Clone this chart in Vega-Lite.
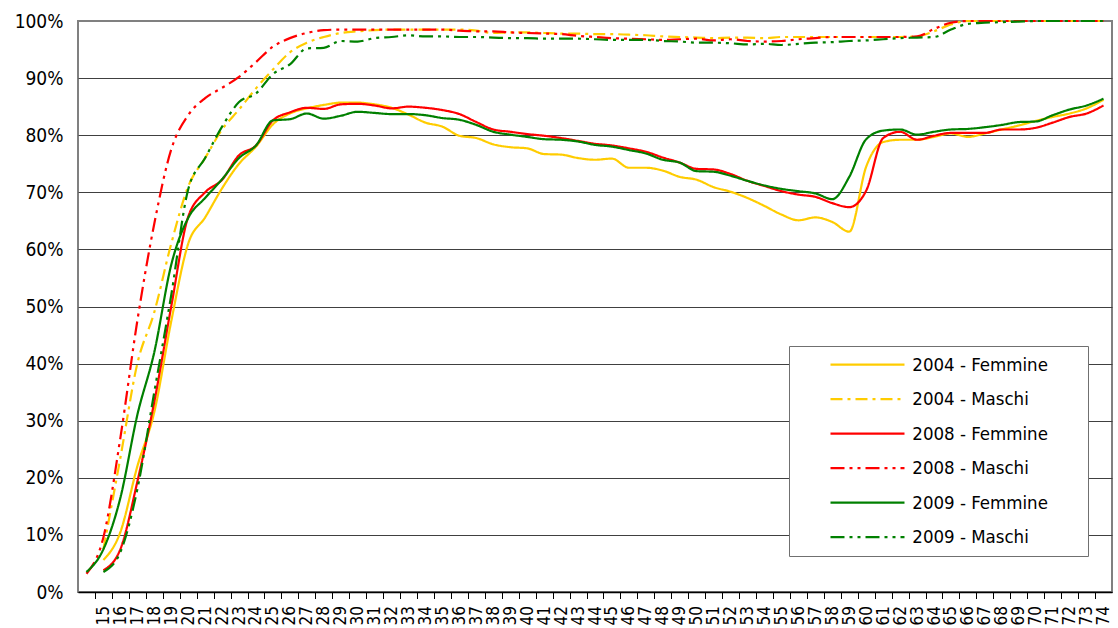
{
"$schema": "https://vega.github.io/schema/vega-lite/v6.json",
"width": 1034, "height": 571,
"autosize": {"type": "none"},
"padding": {"left": 78, "top": 21, "right": 6, "bottom": 36},
"background": "white",
"config": {"view": {"stroke": "#808080", "strokeWidth": 2}, "font": "DejaVu Sans Condensed, DejaVu Sans, sans-serif"},
"data": {"values": [
{"s":"2004 - Femmine","a":15,"v":5.6},{"s":"2004 - Femmine","a":16,"v":10.5},{"s":"2004 - Femmine","a":17,"v":22},{"s":"2004 - Femmine","a":18,"v":31.5},{"s":"2004 - Femmine","a":19,"v":47.4},{"s":"2004 - Femmine","a":20,"v":61},{"s":"2004 - Femmine","a":21,"v":65.6},{"s":"2004 - Femmine","a":22,"v":70.7},{"s":"2004 - Femmine","a":23,"v":75},{"s":"2004 - Femmine","a":24,"v":78},{"s":"2004 - Femmine","a":25,"v":81.9},{"s":"2004 - Femmine","a":26,"v":83.8},{"s":"2004 - Femmine","a":27,"v":84.7},{"s":"2004 - Femmine","a":28,"v":85.3},{"s":"2004 - Femmine","a":29,"v":85.7},{"s":"2004 - Femmine","a":30,"v":85.7},{"s":"2004 - Femmine","a":31,"v":85.4},{"s":"2004 - Femmine","a":32,"v":84.8},{"s":"2004 - Femmine","a":33,"v":83.6},{"s":"2004 - Femmine","a":34,"v":82.2},{"s":"2004 - Femmine","a":35,"v":81.5},{"s":"2004 - Femmine","a":36,"v":79.9},{"s":"2004 - Femmine","a":37,"v":79.5},{"s":"2004 - Femmine","a":38,"v":78.4},{"s":"2004 - Femmine","a":39,"v":77.9},{"s":"2004 - Femmine","a":40,"v":77.7},{"s":"2004 - Femmine","a":41,"v":76.7},{"s":"2004 - Femmine","a":42,"v":76.6},{"s":"2004 - Femmine","a":43,"v":76.0},{"s":"2004 - Femmine","a":44,"v":75.7},{"s":"2004 - Femmine","a":45,"v":75.9},{"s":"2004 - Femmine","a":46,"v":74.3},{"s":"2004 - Femmine","a":47,"v":74.3},{"s":"2004 - Femmine","a":48,"v":73.8},{"s":"2004 - Femmine","a":49,"v":72.7},{"s":"2004 - Femmine","a":50,"v":72.2},{"s":"2004 - Femmine","a":51,"v":70.9},{"s":"2004 - Femmine","a":52,"v":70.1},{"s":"2004 - Femmine","a":53,"v":69.0},{"s":"2004 - Femmine","a":54,"v":67.6},{"s":"2004 - Femmine","a":55,"v":66.1},{"s":"2004 - Femmine","a":56,"v":65.1},{"s":"2004 - Femmine","a":57,"v":65.6},{"s":"2004 - Femmine","a":58,"v":64.8},{"s":"2004 - Femmine","a":59,"v":63.1},{"s":"2004 - Femmine","a":60,"v":74.5},{"s":"2004 - Femmine","a":61,"v":78.8},{"s":"2004 - Femmine","a":62,"v":79.2},{"s":"2004 - Femmine","a":63,"v":79.2},{"s":"2004 - Femmine","a":64,"v":79.7},{"s":"2004 - Femmine","a":65,"v":80.3},{"s":"2004 - Femmine","a":66,"v":79.7},{"s":"2004 - Femmine","a":67,"v":80.3},{"s":"2004 - Femmine","a":68,"v":81.0},{"s":"2004 - Femmine","a":69,"v":81.7},{"s":"2004 - Femmine","a":70,"v":82.5},{"s":"2004 - Femmine","a":71,"v":83.2},{"s":"2004 - Femmine","a":72,"v":83.8},{"s":"2004 - Femmine","a":73,"v":84.7},{"s":"2004 - Femmine","a":74,"v":86.2},
{"s":"2004 - Maschi","a":15,"v":7.5},{"s":"2004 - Maschi","a":16,"v":23.5},{"s":"2004 - Maschi","a":17,"v":40},{"s":"2004 - Maschi","a":18,"v":49},{"s":"2004 - Maschi","a":19,"v":61},{"s":"2004 - Maschi","a":20,"v":71},{"s":"2004 - Maschi","a":21,"v":76},{"s":"2004 - Maschi","a":22,"v":81},{"s":"2004 - Maschi","a":23,"v":84.5},{"s":"2004 - Maschi","a":24,"v":88.2},{"s":"2004 - Maschi","a":25,"v":91.5},{"s":"2004 - Maschi","a":26,"v":94.5},{"s":"2004 - Maschi","a":27,"v":96.2},{"s":"2004 - Maschi","a":28,"v":97.2},{"s":"2004 - Maschi","a":29,"v":97.9},{"s":"2004 - Maschi","a":30,"v":98.2},{"s":"2004 - Maschi","a":31,"v":98.4},{"s":"2004 - Maschi","a":32,"v":98.5},{"s":"2004 - Maschi","a":33,"v":98.5},{"s":"2004 - Maschi","a":34,"v":98.5},{"s":"2004 - Maschi","a":35,"v":98.5},{"s":"2004 - Maschi","a":36,"v":98.5},{"s":"2004 - Maschi","a":37,"v":98.3},{"s":"2004 - Maschi","a":38,"v":97.9},{"s":"2004 - Maschi","a":39,"v":98.0},{"s":"2004 - Maschi","a":40,"v":98.0},{"s":"2004 - Maschi","a":41,"v":97.9},{"s":"2004 - Maschi","a":42,"v":97.8},{"s":"2004 - Maschi","a":43,"v":97.8},{"s":"2004 - Maschi","a":44,"v":97.7},{"s":"2004 - Maschi","a":45,"v":97.7},{"s":"2004 - Maschi","a":46,"v":97.6},{"s":"2004 - Maschi","a":47,"v":97.5},{"s":"2004 - Maschi","a":48,"v":97.3},{"s":"2004 - Maschi","a":49,"v":97.2},{"s":"2004 - Maschi","a":50,"v":97.1},{"s":"2004 - Maschi","a":51,"v":97.0},{"s":"2004 - Maschi","a":52,"v":97.1},{"s":"2004 - Maschi","a":53,"v":97.1},{"s":"2004 - Maschi","a":54,"v":97.0},{"s":"2004 - Maschi","a":55,"v":97.2},{"s":"2004 - Maschi","a":56,"v":97.2},{"s":"2004 - Maschi","a":57,"v":97.2},{"s":"2004 - Maschi","a":58,"v":97.2},{"s":"2004 - Maschi","a":59,"v":97.2},{"s":"2004 - Maschi","a":60,"v":97.2},{"s":"2004 - Maschi","a":61,"v":97.2},{"s":"2004 - Maschi","a":62,"v":97.2},{"s":"2004 - Maschi","a":63,"v":97.3},{"s":"2004 - Maschi","a":64,"v":98.2},{"s":"2004 - Maschi","a":65,"v":99.4},{"s":"2004 - Maschi","a":66,"v":100},{"s":"2004 - Maschi","a":67,"v":100},{"s":"2004 - Maschi","a":68,"v":100},{"s":"2004 - Maschi","a":69,"v":100},{"s":"2004 - Maschi","a":70,"v":100},{"s":"2004 - Maschi","a":71,"v":100},{"s":"2004 - Maschi","a":72,"v":100},{"s":"2004 - Maschi","a":73,"v":100},{"s":"2004 - Maschi","a":74,"v":100},
{"s":"2008 - Femmine","a":15,"v":3.8},{"s":"2008 - Femmine","a":16,"v":7.5},{"s":"2008 - Femmine","a":17,"v":19.3},{"s":"2008 - Femmine","a":18,"v":33.3},{"s":"2008 - Femmine","a":19,"v":50},{"s":"2008 - Femmine","a":20,"v":65.7},{"s":"2008 - Femmine","a":21,"v":70},{"s":"2008 - Femmine","a":22,"v":72.2},{"s":"2008 - Femmine","a":23,"v":76.5},{"s":"2008 - Femmine","a":24,"v":78.2},{"s":"2008 - Femmine","a":25,"v":82.6},{"s":"2008 - Femmine","a":26,"v":84},{"s":"2008 - Femmine","a":27,"v":84.8},{"s":"2008 - Femmine","a":28,"v":84.6},{"s":"2008 - Femmine","a":29,"v":85.4},{"s":"2008 - Femmine","a":30,"v":85.5},{"s":"2008 - Femmine","a":31,"v":85.2},{"s":"2008 - Femmine","a":32,"v":84.7},{"s":"2008 - Femmine","a":33,"v":85.0},{"s":"2008 - Femmine","a":34,"v":84.8},{"s":"2008 - Femmine","a":35,"v":84.4},{"s":"2008 - Femmine","a":36,"v":83.7},{"s":"2008 - Femmine","a":37,"v":82.3},{"s":"2008 - Femmine","a":38,"v":81.0},{"s":"2008 - Femmine","a":39,"v":80.6},{"s":"2008 - Femmine","a":40,"v":80.2},{"s":"2008 - Femmine","a":41,"v":79.9},{"s":"2008 - Femmine","a":42,"v":79.5},{"s":"2008 - Femmine","a":43,"v":79.0},{"s":"2008 - Femmine","a":44,"v":78.5},{"s":"2008 - Femmine","a":45,"v":78.2},{"s":"2008 - Femmine","a":46,"v":77.7},{"s":"2008 - Femmine","a":47,"v":77.1},{"s":"2008 - Femmine","a":48,"v":76.1},{"s":"2008 - Femmine","a":49,"v":75.2},{"s":"2008 - Femmine","a":50,"v":74.1},{"s":"2008 - Femmine","a":51,"v":74.0},{"s":"2008 - Femmine","a":52,"v":73.2},{"s":"2008 - Femmine","a":53,"v":72.0},{"s":"2008 - Femmine","a":54,"v":71.1},{"s":"2008 - Femmine","a":55,"v":70.2},{"s":"2008 - Femmine","a":56,"v":69.6},{"s":"2008 - Femmine","a":57,"v":69.2},{"s":"2008 - Femmine","a":58,"v":68.1},{"s":"2008 - Femmine","a":59,"v":67.4},{"s":"2008 - Femmine","a":60,"v":70.3},{"s":"2008 - Femmine","a":61,"v":79.5},{"s":"2008 - Femmine","a":62,"v":80.6},{"s":"2008 - Femmine","a":63,"v":79.2},{"s":"2008 - Femmine","a":64,"v":79.9},{"s":"2008 - Femmine","a":65,"v":80.4},{"s":"2008 - Femmine","a":66,"v":80.4},{"s":"2008 - Femmine","a":67,"v":80.4},{"s":"2008 - Femmine","a":68,"v":81.0},{"s":"2008 - Femmine","a":69,"v":81.0},{"s":"2008 - Femmine","a":70,"v":81.3},{"s":"2008 - Femmine","a":71,"v":82.2},{"s":"2008 - Femmine","a":72,"v":83.2},{"s":"2008 - Femmine","a":73,"v":83.8},{"s":"2008 - Femmine","a":74,"v":85.2},
{"s":"2008 - Maschi","a":14,"v":3.2},{"s":"2008 - Maschi","a":15,"v":9.6},{"s":"2008 - Maschi","a":16,"v":27},{"s":"2008 - Maschi","a":17,"v":47.5},{"s":"2008 - Maschi","a":18,"v":64.5},{"s":"2008 - Maschi","a":19,"v":77.5},{"s":"2008 - Maschi","a":20,"v":83.5},{"s":"2008 - Maschi","a":21,"v":86.5},{"s":"2008 - Maschi","a":22,"v":88.3},{"s":"2008 - Maschi","a":23,"v":90.2},{"s":"2008 - Maschi","a":24,"v":92.8},{"s":"2008 - Maschi","a":25,"v":95.5},{"s":"2008 - Maschi","a":26,"v":97.0},{"s":"2008 - Maschi","a":27,"v":97.9},{"s":"2008 - Maschi","a":28,"v":98.4},{"s":"2008 - Maschi","a":29,"v":98.5},{"s":"2008 - Maschi","a":30,"v":98.5},{"s":"2008 - Maschi","a":31,"v":98.5},{"s":"2008 - Maschi","a":32,"v":98.5},{"s":"2008 - Maschi","a":33,"v":98.5},{"s":"2008 - Maschi","a":34,"v":98.5},{"s":"2008 - Maschi","a":35,"v":98.5},{"s":"2008 - Maschi","a":36,"v":98.3},{"s":"2008 - Maschi","a":37,"v":98.2},{"s":"2008 - Maschi","a":38,"v":98.2},{"s":"2008 - Maschi","a":39,"v":98.0},{"s":"2008 - Maschi","a":40,"v":97.9},{"s":"2008 - Maschi","a":41,"v":97.8},{"s":"2008 - Maschi","a":42,"v":97.7},{"s":"2008 - Maschi","a":43,"v":97.4},{"s":"2008 - Maschi","a":44,"v":97.2},{"s":"2008 - Maschi","a":45,"v":97.0},{"s":"2008 - Maschi","a":46,"v":96.9},{"s":"2008 - Maschi","a":47,"v":96.8},{"s":"2008 - Maschi","a":48,"v":96.7},{"s":"2008 - Maschi","a":49,"v":96.8},{"s":"2008 - Maschi","a":50,"v":96.9},{"s":"2008 - Maschi","a":51,"v":96.6},{"s":"2008 - Maschi","a":52,"v":96.8},{"s":"2008 - Maschi","a":53,"v":96.5},{"s":"2008 - Maschi","a":54,"v":96.4},{"s":"2008 - Maschi","a":55,"v":96.5},{"s":"2008 - Maschi","a":56,"v":96.8},{"s":"2008 - Maschi","a":57,"v":97.0},{"s":"2008 - Maschi","a":58,"v":97.2},{"s":"2008 - Maschi","a":59,"v":97.2},{"s":"2008 - Maschi","a":60,"v":97.2},{"s":"2008 - Maschi","a":61,"v":97.2},{"s":"2008 - Maschi","a":62,"v":97.2},{"s":"2008 - Maschi","a":63,"v":97.3},{"s":"2008 - Maschi","a":64,"v":98.6},{"s":"2008 - Maschi","a":65,"v":99.7},{"s":"2008 - Maschi","a":66,"v":100},{"s":"2008 - Maschi","a":67,"v":100},{"s":"2008 - Maschi","a":68,"v":100},{"s":"2008 - Maschi","a":69,"v":100},{"s":"2008 - Maschi","a":70,"v":100},{"s":"2008 - Maschi","a":71,"v":100},{"s":"2008 - Maschi","a":72,"v":100},{"s":"2008 - Maschi","a":73,"v":100},{"s":"2008 - Maschi","a":74,"v":100},
{"s":"2009 - Femmine","a":14,"v":3.5},{"s":"2009 - Femmine","a":15,"v":7.5},{"s":"2009 - Femmine","a":16,"v":16.5},{"s":"2009 - Femmine","a":17,"v":31},{"s":"2009 - Femmine","a":18,"v":42},{"s":"2009 - Femmine","a":19,"v":57.3},{"s":"2009 - Femmine","a":20,"v":65.5},{"s":"2009 - Femmine","a":21,"v":69},{"s":"2009 - Femmine","a":22,"v":72.3},{"s":"2009 - Femmine","a":23,"v":76},{"s":"2009 - Femmine","a":24,"v":78.2},{"s":"2009 - Femmine","a":25,"v":82.6},{"s":"2009 - Femmine","a":26,"v":82.8},{"s":"2009 - Femmine","a":27,"v":83.8},{"s":"2009 - Femmine","a":28,"v":82.9},{"s":"2009 - Femmine","a":29,"v":83.4},{"s":"2009 - Femmine","a":30,"v":84.1},{"s":"2009 - Femmine","a":31,"v":83.9},{"s":"2009 - Femmine","a":32,"v":83.7},{"s":"2009 - Femmine","a":33,"v":83.7},{"s":"2009 - Femmine","a":34,"v":83.5},{"s":"2009 - Femmine","a":35,"v":83.0},{"s":"2009 - Femmine","a":36,"v":82.7},{"s":"2009 - Femmine","a":37,"v":81.8},{"s":"2009 - Femmine","a":38,"v":80.6},{"s":"2009 - Femmine","a":39,"v":80.1},{"s":"2009 - Femmine","a":40,"v":79.7},{"s":"2009 - Femmine","a":41,"v":79.3},{"s":"2009 - Femmine","a":42,"v":79.2},{"s":"2009 - Femmine","a":43,"v":78.9},{"s":"2009 - Femmine","a":44,"v":78.3},{"s":"2009 - Femmine","a":45,"v":78.0},{"s":"2009 - Femmine","a":46,"v":77.4},{"s":"2009 - Femmine","a":47,"v":76.8},{"s":"2009 - Femmine","a":48,"v":75.7},{"s":"2009 - Femmine","a":49,"v":75.2},{"s":"2009 - Femmine","a":50,"v":73.7},{"s":"2009 - Femmine","a":51,"v":73.6},{"s":"2009 - Femmine","a":52,"v":72.9},{"s":"2009 - Femmine","a":53,"v":72.0},{"s":"2009 - Femmine","a":54,"v":71.2},{"s":"2009 - Femmine","a":55,"v":70.6},{"s":"2009 - Femmine","a":56,"v":70.2},{"s":"2009 - Femmine","a":57,"v":69.8},{"s":"2009 - Femmine","a":58,"v":68.8},{"s":"2009 - Femmine","a":59,"v":72.7},{"s":"2009 - Femmine","a":60,"v":79.3},{"s":"2009 - Femmine","a":61,"v":80.8},{"s":"2009 - Femmine","a":62,"v":81.0},{"s":"2009 - Femmine","a":63,"v":80.1},{"s":"2009 - Femmine","a":64,"v":80.6},{"s":"2009 - Femmine","a":65,"v":81.0},{"s":"2009 - Femmine","a":66,"v":81.1},{"s":"2009 - Femmine","a":67,"v":81.4},{"s":"2009 - Femmine","a":68,"v":81.8},{"s":"2009 - Femmine","a":69,"v":82.3},{"s":"2009 - Femmine","a":70,"v":82.4},{"s":"2009 - Femmine","a":71,"v":83.5},{"s":"2009 - Femmine","a":72,"v":84.5},{"s":"2009 - Femmine","a":73,"v":85.2},{"s":"2009 - Femmine","a":74,"v":86.4},
{"s":"2009 - Maschi","a":15,"v":3.5},{"s":"2009 - Maschi","a":16,"v":7},{"s":"2009 - Maschi","a":17,"v":18},{"s":"2009 - Maschi","a":18,"v":35},{"s":"2009 - Maschi","a":19,"v":52},{"s":"2009 - Maschi","a":20,"v":70.5},{"s":"2009 - Maschi","a":21,"v":76},{"s":"2009 - Maschi","a":22,"v":81.5},{"s":"2009 - Maschi","a":23,"v":85.8},{"s":"2009 - Maschi","a":24,"v":87.3},{"s":"2009 - Maschi","a":25,"v":90.7},{"s":"2009 - Maschi","a":26,"v":92.4},{"s":"2009 - Maschi","a":27,"v":95.2},{"s":"2009 - Maschi","a":28,"v":95.3},{"s":"2009 - Maschi","a":29,"v":96.5},{"s":"2009 - Maschi","a":30,"v":96.4},{"s":"2009 - Maschi","a":31,"v":97.0},{"s":"2009 - Maschi","a":32,"v":97.2},{"s":"2009 - Maschi","a":33,"v":97.5},{"s":"2009 - Maschi","a":34,"v":97.3},{"s":"2009 - Maschi","a":35,"v":97.3},{"s":"2009 - Maschi","a":36,"v":97.2},{"s":"2009 - Maschi","a":37,"v":97.2},{"s":"2009 - Maschi","a":38,"v":97.1},{"s":"2009 - Maschi","a":39,"v":97.0},{"s":"2009 - Maschi","a":40,"v":97.0},{"s":"2009 - Maschi","a":41,"v":96.9},{"s":"2009 - Maschi","a":42,"v":96.9},{"s":"2009 - Maschi","a":43,"v":96.9},{"s":"2009 - Maschi","a":44,"v":96.8},{"s":"2009 - Maschi","a":45,"v":96.7},{"s":"2009 - Maschi","a":46,"v":96.7},{"s":"2009 - Maschi","a":47,"v":96.7},{"s":"2009 - Maschi","a":48,"v":96.5},{"s":"2009 - Maschi","a":49,"v":96.4},{"s":"2009 - Maschi","a":50,"v":96.2},{"s":"2009 - Maschi","a":51,"v":96.2},{"s":"2009 - Maschi","a":52,"v":96.1},{"s":"2009 - Maschi","a":53,"v":95.9},{"s":"2009 - Maschi","a":54,"v":96.0},{"s":"2009 - Maschi","a":55,"v":95.8},{"s":"2009 - Maschi","a":56,"v":96.0},{"s":"2009 - Maschi","a":57,"v":96.2},{"s":"2009 - Maschi","a":58,"v":96.3},{"s":"2009 - Maschi","a":59,"v":96.5},{"s":"2009 - Maschi","a":60,"v":96.6},{"s":"2009 - Maschi","a":61,"v":96.8},{"s":"2009 - Maschi","a":62,"v":97.0},{"s":"2009 - Maschi","a":63,"v":97.1},{"s":"2009 - Maschi","a":64,"v":97.2},{"s":"2009 - Maschi","a":65,"v":98.5},{"s":"2009 - Maschi","a":66,"v":99.5},{"s":"2009 - Maschi","a":67,"v":99.7},{"s":"2009 - Maschi","a":68,"v":99.8},{"s":"2009 - Maschi","a":69,"v":99.9},{"s":"2009 - Maschi","a":70,"v":100},{"s":"2009 - Maschi","a":71,"v":100},{"s":"2009 - Maschi","a":72,"v":100},{"s":"2009 - Maschi","a":73,"v":100},{"s":"2009 - Maschi","a":74,"v":100}
]},
"mark": {"type": "line", "interpolate": "monotone", "strokeWidth": 2.2},
"encoding": {
"x": {"field": "a", "type": "quantitative", "scale": {"domain": [13.5, 74.5], "nice": false, "zero": false},
  "axis": {"title": null, "grid": false, "values": [15,16,17,18,19,20,21,22,23,24,25,26,27,28,29,30,31,32,33,34,35,36,37,38,39,40,41,42,43,44,45,46,47,48,49,50,51,52,53,54,55,56,57,58,59,60,61,62,63,64,65,66,67,68,69,70,71,72,73,74],
   "labelAngle": 270, "tickOffset": -8.475, "labelOffset": 8.475, "tickSize": 6.5, "tickColor": "#000000", "domainColor": "#000000", "domainWidth": 1.5,
   "labelPadding": 7, "labelFontSize": 17, "labelColor": "#000000", "labelOverlap": false, "labelFlush": false, "labelBound": false}},
"y": {"field": "v", "type": "quantitative", "scale": {"domain": [0, 100], "nice": false},
  "axis": {"title": null, "values": [0,10,20,30,40,50,60,70,80,90,100], "labelExpr": "datum.value + '%'", "ticks": false, "tickSize": 0, "domain": false,
   "grid": true, "gridColor": {"condition": {"test": "datum.value == 100", "value": "#808080"}, "value": "#404040"}, "gridWidth": 1,
   "labelPadding": 15, "labelFontSize": 19, "labelColor": "#000000"}},
"color": {"field": "s", "type": "nominal",
  "scale": {"domain": ["2004 - Femmine","2004 - Maschi","2008 - Femmine","2008 - Maschi","2009 - Femmine","2009 - Maschi"], "range": ["#FFCC00","#FFCC00","#FF0000","#FF0000","#008000","#008000"]},
  "legend": {"title": null, "orient": "none", "legendX": 711, "legendY": 325, "symbolType": "stroke", "symbolSize": 5476, "symbolStrokeWidth": 2.2,
   "clipHeight": 32, "rowPadding": 2.5, "padding": 2.6, "symbolOffset": 37.4, "labelOffset": 6.3, "labelFontSize": 18.5, "labelColor": "#000000", "labelLimit": 500,
   "labelExpr": "datum.label + '\u2800\u2800\u2800'", "strokeColor": "#707070", "fillColor": "#ffffff", "cornerRadius": 0}},
"strokeDash": {"field": "s", "type": "nominal",
  "scale": {"domain": ["2004 - Femmine","2004 - Maschi","2008 - Femmine","2008 - Maschi","2009 - Femmine","2009 - Maschi"], "range": [[1,0],[12,5,3,5],[1,0],[14,5,3,5,3,5],[1,0],[14,5,3,5,3,5]]},
  "legend": {"title": null, "orient": "none", "legendX": 711, "legendY": 325, "symbolType": "stroke", "symbolSize": 5476, "symbolStrokeWidth": 2.2,
   "clipHeight": 32, "rowPadding": 2.5, "padding": 2.6, "symbolOffset": 37.4, "labelOffset": 6.3, "labelFontSize": 18.5, "labelColor": "#000000", "labelLimit": 500,
   "labelExpr": "datum.label + '\u2800\u2800\u2800'", "strokeColor": "#707070", "fillColor": "#ffffff", "cornerRadius": 0}}
}
}
